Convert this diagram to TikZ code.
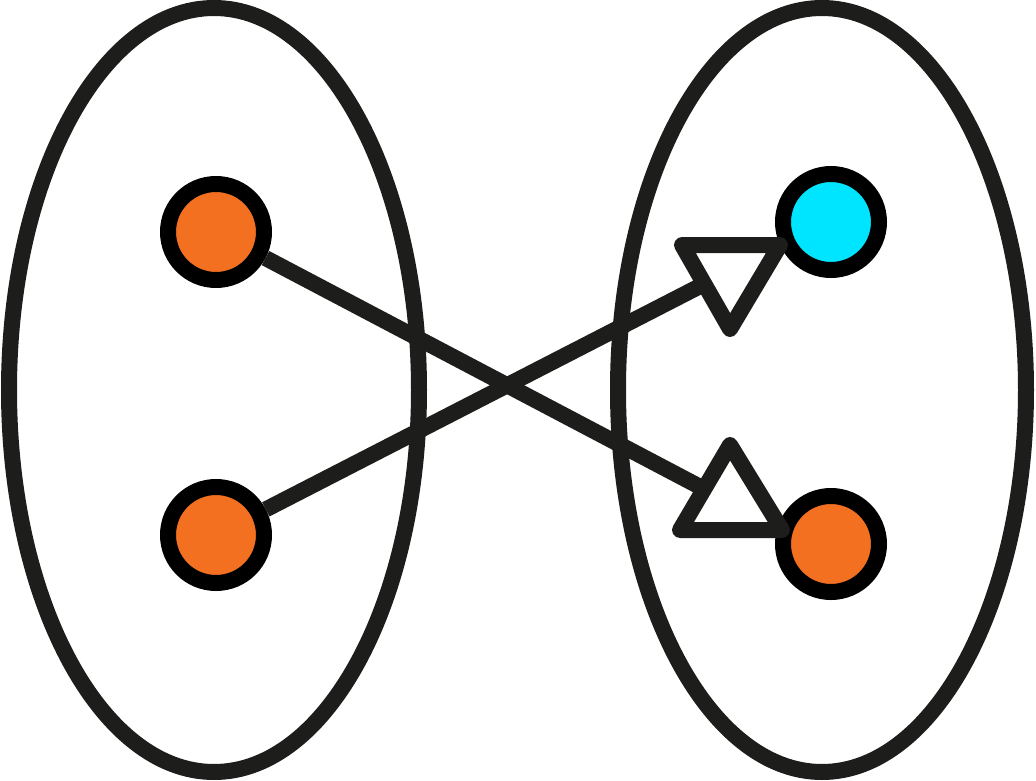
\documentclass[tikz,border=0pt]{standalone}
\usetikzlibrary{calc}
\definecolor{inkDark}{HTML}{1D1D1B}
\definecolor{dotOrange}{HTML}{F37021}
\definecolor{dotCyan}{HTML}{00E5FF}
\begin{document}
\begin{tikzpicture}[
    x=0.02cm,
    y=-0.02cm,
    setOval/.style={draw=inkDark, line width=16*0.02cm},
    dot/.style={circle, draw=black, line width=16*0.02cm, inner sep=0pt,
        minimum size=96*0.02cm},
    orangeDot/.style={dot, fill=dotOrange},
    cyanDot/.style={dot, fill=dotCyan},
    mapLine/.style={draw=inkDark, line width=16*0.02cm},
    openTip/.style={draw=inkDark, fill=white, line width=16*0.02cm,
        line join=round}
]
\path[use as bounding box] (0,0) rectangle (1036,781);

% Domain and codomain sets.
\draw[setOval] (214,390) ellipse [x radius=205, y radius=382];
\draw[setOval] (822,390) ellipse [x radius=204, y radius=382];

% Elements.
\node[orangeDot] (srcTop) at (216,232) {};
\node[orangeDot] (srcBottom) at (216,535) {};
\node[cyanDot] (dstTop) at (831,222) {};
\node[orangeDot] (dstBottom) at (831,544) {};

% Ends of the two mappings, next to the target elements.
\coordinate (tipTop) at (780,245);
\coordinate (tipBottom) at (782,530);

\draw[mapLine] (srcTop) -- (tipBottom);
\draw[mapLine] (srcBottom) -- (tipTop);

% Open triangular heads.
\draw[openTip] (tipTop) -- ($(tipTop)+(-98,0)$) -- ($(tipTop)+(-50,84)$) -- cycle;
\draw[openTip] (tipBottom) -- ($(tipBottom)+(-102,0)$) -- ($(tipBottom)+(-52,-85)$) -- cycle;
\end{tikzpicture}
\end{document}
